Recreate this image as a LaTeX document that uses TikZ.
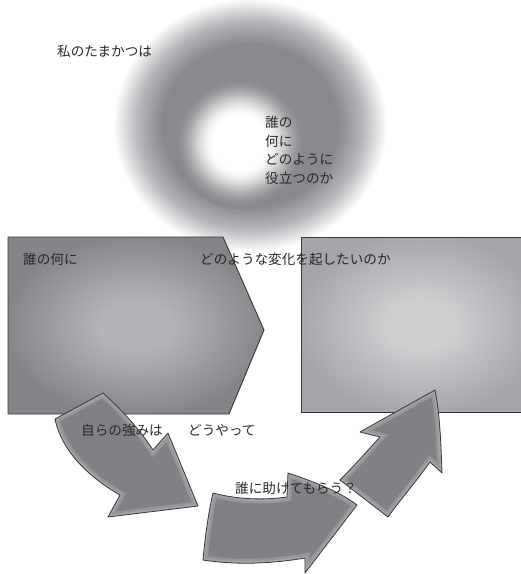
\documentclass[tikz,border=0pt]{standalone}
\usepackage{fontspec}
\setmainfont{Noto Sans CJK JP}
\definecolor{ringgray}{RGB}{136,136,141}
\definecolor{ringmid}{RGB}{182,182,186}
\definecolor{bla}{RGB}{180,180,184}
\definecolor{blb}{RGB}{132,132,137}
\definecolor{bra}{RGB}{206,206,209}
\definecolor{brb}{RGB}{165,165,170}
\definecolor{arrowgray}{RGB}{128,128,133}
\definecolor{inkline}{RGB}{55,55,58}
\definecolor{txt}{RGB}{40,40,40}
\pgfdeclareradialshading{glow}{\pgfpoint{0bp}{0bp}}{color(0bp)=(ringgray); color(16bp)=(ringgray); color(20.5bp)=(ringmid); color(25bp)=(white); color(100bp)=(white)}
\pgfdeclareradialshading{boxL}{\pgfpoint{0bp}{0bp}}{color(0bp)=(bla); color(7bp)=(bla); color(26bp)=(blb); color(100bp)=(blb)}
\pgfdeclareradialshading{boxR}{\pgfpoint{0bp}{0bp}}{color(0bp)=(bra); color(7bp)=(bra); color(26bp)=(brb); color(100bp)=(brb)}
\tikzset{
  lbl/.style={font=\fontsize{13.6}{18.5}\selectfont, text=txt, inner sep=0pt},
  outline/.style={draw=inkline, line width=0.9pt},
  arrowfill/.style={fill=arrowgray},
  rim/.style={draw=white, line width=9pt, opacity=0.18},
  rimin/.style={draw=white, line width=4pt, opacity=0.15},
  arrowline/.style={draw=inkline, line width=0.8pt, line join=round},
}
\def\arrowA{(103,393) .. controls (122,410) and (140,430) .. (153,450) -- (168,433) -- (198,506) -- (108,517) -- (120,495) .. controls (90,478) and (62,452) .. (55,419) -- cycle}
\def\arrowB{(213,493) .. controls (240,500) and (265,500) .. (287,497) -- (288,473) .. controls (315,482) and (340,492) .. (357,505) -- (305,573) -- (305,558) .. controls (270,564) and (235,565) .. (203,560) .. controls (205,538) and (208,515) .. (213,493) -- cycle}
\def\arrowC{(340,480) .. controls (355,465) and (368,450) .. (380,437) -- (360,432) -- (435,390) .. controls (440,415) and (441,445) .. (442,473) -- (430,462) .. controls (415,483) and (400,500) .. (388,517) -- cycle}
\begin{document}
\begin{tikzpicture}[x=1pt,y=-1pt]
\useasboundingbox (0,0) rectangle (521,574);
% donut
\begin{scope}
\clip (0,0) rectangle (521,574);
\shade[shading=glow] (113,-2) rectangle (387,252);
\foreach \r in {66,65,...,26}{
  \pgfmathsetmacro\tt{(66-\r)/40}
  \pgfmathsetmacro\pp{100*\tt*\tt*(3-2*\tt)}
  \fill[white!\pp!ringgray] (240,143) circle (\r);
}
\end{scope}
% boxes
\begin{scope}
\clip (0,0) rectangle (521,574);
\shade[shading=boxL] (8,237) -- (223,237) -- (264,330) -- (229,414) -- (8,414) -- cycle;
\draw[outline] (8,237) -- (223,237) -- (264,330) -- (229,414) -- (8,414) -- cycle;
\shade[shading=boxR] (301,237) rectangle (540,412);
\draw[outline] (530,237) -- (301,237) -- (301,412) -- (530,412);
\end{scope}
% arrows
\foreach \p in {\arrowA,\arrowB,\arrowC}{
  \fill[arrowfill] \p;
  \begin{scope}\clip \p; \draw[rim] \p; \draw[rimin] \p; \end{scope}
  \draw[arrowline] \p;
}
% texts
\node[lbl, anchor=west] (t1) at (57,51) {私のたまかつは};
\node[lbl, anchor=north west, align=left] (t2) at (265,116) {誰の\\何に\\どのように\\役立つのか};
\node[lbl, anchor=west] (t3) at (23,259) {誰の何に};
\node[lbl, anchor=west] (t4) at (200,259) {どのような変化を起したいのか};
\node[lbl, anchor=west] (t5) at (81,430) {自らの強みは};
\node[lbl, anchor=west] (t6) at (188,430) {どうやって};
\node[lbl, anchor=west] (t7) at (235,488) {誰に助けてもらう？};
\end{tikzpicture}
\end{document}
